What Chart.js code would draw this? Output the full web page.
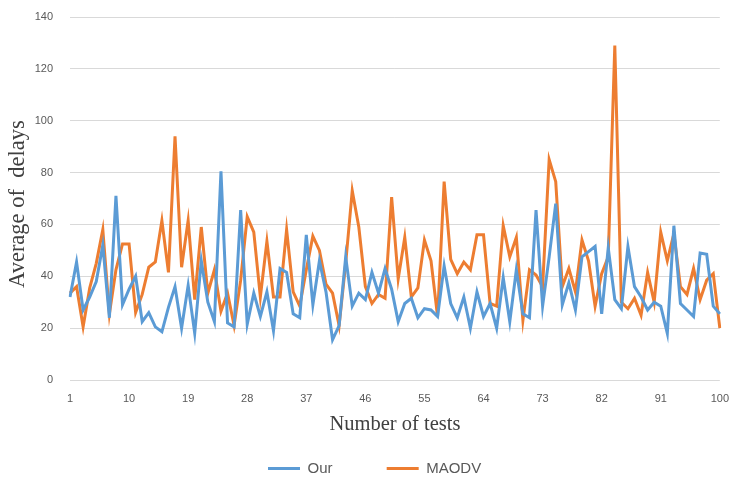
<!DOCTYPE html>
<html>
<head>
<meta charset="utf-8">
<script src="https://cdn.jsdelivr.net/npm/chart.js@4/dist/chart.umd.min.js"></script>
<style>
  html, body { margin: 0; padding: 0; background: #fff; }
  #wrap { width: 733px; height: 477px; position: relative; }
</style>
</head>
<body>
<div id="wrap"><canvas id="delays-chart"></canvas></div>
<script>
// Test numbers 1..100 on the x axis
const tests = Array.from({ length: 100 }, (_, i) => String(i + 1));
const xTickLabels = ['1', '10', '19', '28', '37', '46', '55', '64', '73', '82', '91', '100'];
const yTicks = [0, 20, 40, 60, 80, 100, 120, 140];

// Average of delays per test
const ourDelays = [
    32, 45.5, 27, 32, 38, 52, 24, 71, 29, 35,
    40, 22.5, 26, 20.5, 18.6, 28, 36, 20, 36.5, 18,
    46, 30, 22.5, 80.5, 22, 20.5, 65.5, 21.5, 33.5, 24.5,
    34, 19, 43, 41.5, 25.5, 24, 56, 29, 46, 34,
    15.5, 21, 47.5, 28.5, 33.5, 31, 41.5, 33.5, 43, 35,
    22.5, 29.5, 31.5, 24, 27.5, 27, 24.5, 44, 29.5, 24,
    32, 20, 34, 24.5, 29.5, 20, 39.5, 22.5, 42.5, 25.5,
    24, 65.5, 28.5, 47.5, 68, 29, 37.5, 27, 47.5, 49.5,
    51.5, 25.5, 51, 31, 27.5, 51.5, 36, 32, 27, 30,
    28.5, 18, 59.5, 29.5, 27, 24.5, 49, 48.5, 28.5, 25.5
];
const maodvDelays = [
    33.5, 36, 20.5, 35.5, 45, 58, 25.5, 42.5, 52.5, 52.5,
    26, 33, 43.5, 45.5, 61.5, 41.5, 94, 43.5, 61.5, 31,
    59, 33.5, 42.5, 26.5, 33.5, 21, 38.5, 63, 57, 32,
    53.5, 32, 32, 58, 34, 28.5, 42.5, 55.5, 50, 37,
    33.5, 21, 45, 73, 59, 36, 29.5, 33, 31.5, 70.5,
    39, 55, 32, 35.5, 54, 46, 24.5, 76.5, 46.5, 41,
    45.5, 42.5, 56, 56, 29.5, 28.5, 59.5, 47.5, 55, 23,
    42.5, 40.5, 36, 85, 76.5, 36, 43, 34, 54, 46,
    28.5, 41, 47.5, 129, 30, 27.5, 31.5, 25, 41.5, 30,
    57, 46, 56.5, 36, 33, 43, 31, 38.5, 41, 20
];

const seriesNames = ['Our', 'MAODV'];
const seriesColors = ['#5b9bd5', '#ed7d31'];

const ctx = document.getElementById('delays-chart').getContext('2d');
new Chart(ctx, {
    type: 'line',
    data: {
        labels: tests,
        datasets: [
            {
                label: seriesNames[0],
                data: ourDelays,
                borderColor: seriesColors[0],
                backgroundColor: seriesColors[0],
                borderWidth: 3,
                pointRadius: 0,
                tension: 0
            },
            {
                label: seriesNames[1],
                data: maodvDelays,
                borderColor: seriesColors[1],
                backgroundColor: seriesColors[1],
                borderWidth: 3,
                pointRadius: 0,
                tension: 0
            }
        ]
    },
    options: {
        responsive: true,
        maintainAspectRatio: false,
        animation: false,
        // left padding only shifts the legend row; the y axis width makes up for it
        layout: {
            padding: { top: 17, right: 5.8, bottom: -9, left: 22 }
        },
        scales: {
            x: {
                grid: { display: false },
                border: { display: false },
                ticks: {
                    autoSkip: false,
                    maxRotation: 0,
                    padding: 4,
                    color: '#595959',
                    font: { family: 'Liberation Sans', size: 11 },
                    callback: function (value) {
                        const label = this.getLabelForValue(value);
                        return xTickLabels.includes(label) ? label : '';
                    }
                },
                title: {
                    display: true,
                    text: 'Number of tests',
                    color: '#404040',
                    font: { family: 'Liberation Serif', size: 20.5 },
                    padding: { top: 0, bottom: 24 }
                },
                afterFit: (scale) => { scale.height = 81; }
            },
            y: {
                min: 0,
                max: 140,
                // invisible tick marks keep the labels off the plot without padding the top
                grid: { color: '#d9d9d9', lineWidth: 1, drawTicks: true, tickLength: 7, tickColor: 'transparent' },
                border: { display: false },
                ticks: {
                    stepSize: 20,
                    padding: 10,
                    color: '#595959',
                    font: { family: 'Liberation Sans', size: 11 },
                    callback: (value) => yTicks.includes(value) ? value : ''
                },
                title: {
                    display: true,
                    // trailing spaces nudge the title a little lower, as in the picture
                    text: 'Average of  delays  ',
                    color: '#404040',
                    font: { family: 'Liberation Serif', size: 22.5 },
                    padding: { top: -17, bottom: 0 }
                },
                afterFit: (scale) => { scale.width = 48; }
            }
        },
        plugins: {
            legend: {
                position: 'bottom',
                labels: {
                    usePointStyle: true,
                    pointStyle: 'line',
                    pointStyleWidth: 32,
                    padding: 0,
                    color: '#595959',
                    font: { family: 'Liberation Sans', size: 15 },
                    generateLabels: (chart) => {
                        const items = Chart.defaults.plugins.legend.labels.generateLabels(chart);
                        // leave the wide gap between the two legend entries
                        items[0].text = items[0].text + '             ';
                        return items;
                    }
                }
            },
            tooltip: { enabled: false }
        }
    }
});
</script>
</body>
</html>
